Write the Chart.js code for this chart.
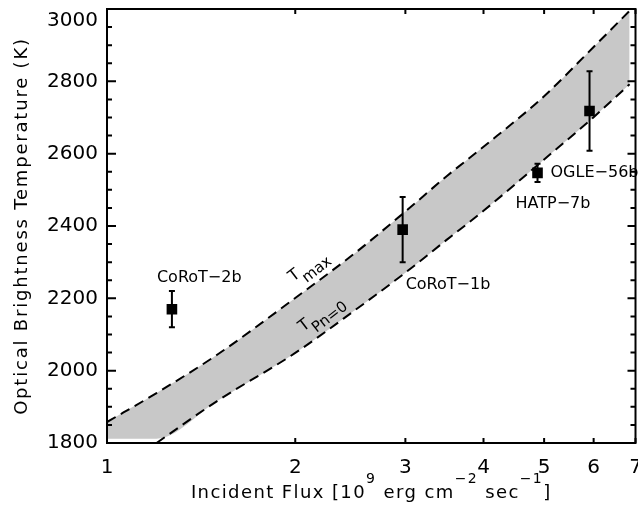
<!DOCTYPE html>
<html>
<head>
<meta charset="utf-8">
<script src="https://cdn.jsdelivr.net/npm/chart.js@4.4.0/dist/chart.umd.min.js"></script>
<style>
  html, body { margin: 0; padding: 0; background: #fff; overflow: hidden; }
  #wrap { width: 638px; height: 507px; overflow: hidden; }
</style>
</head>
<body>
<div id="wrap"><canvas id="chart" width="643" height="507"></canvas></div>
<script>
// measured planets
const planets = ['CoRoT\u22122b', 'CoRoT\u22121b', 'HATP\u22127b', 'OGLE\u221256b'];
const planetFlux = [1.27, 2.97, 4.88, 5.91];
const planetTemp = [2170, 2390, 2547, 2718];
const planetErr = [50, 90, 25, 110];

// model curves
const modelFlux = [1.0, 1.2, 1.5, 2.0, 2.5, 3.0, 3.5, 4.0, 5.0, 6.0, 6.85];
const tMax = [1858, 1938, 2044, 2201, 2327, 2440, 2539, 2619, 2759, 2895, 2995];
const tPn0 = [null, 1800, 1916, 2049, 2169, 2271, 2363, 2442, 2584, 2701, 2792];
const bandFloor = [1812, 1812, 1916, 2049, 2169, 2271, 2363, 2442, 2584, 2701, 2792];

const xTicks = [1, 2, 3, 4, 5, 6, 7];
const yMin = 1800, yMax = 3000, yStep = 200, yMinorStep = 50;

// label placement (pixels from the point)
const labelDx = [-15, 3, -22, -39];
const labelDy = [-27, 59, 35, 66];

Chart.defaults.font.family = 'DejaVu Sans';
Chart.defaults.color = '#000';

const pts = (xs, ys) => xs.map((x, i) => ({ x: x, y: ys[i] }));

const overlay = {
  id: 'overlay',
  afterDatasetsDraw(chart) {
    const { ctx, scales: { x, y } } = chart;
    ctx.save();
    ctx.strokeStyle = '#000';
    ctx.fillStyle = '#000';
    ctx.lineWidth = 2;
    planetFlux.forEach((f, i) => {
      const px = x.getPixelForValue(f);
      const top = y.getPixelForValue(planetTemp[i] + planetErr[i]);
      const bot = y.getPixelForValue(planetTemp[i] - planetErr[i]);
      ctx.beginPath();
      ctx.moveTo(px, top); ctx.lineTo(px, bot);
      ctx.moveTo(px - 3, top); ctx.lineTo(px + 3, top);
      ctx.moveTo(px - 3, bot); ctx.lineTo(px + 3, bot);
      ctx.stroke();
      ctx.font = '16px "DejaVu Sans"';
      ctx.textAlign = 'left';
      ctx.textBaseline = 'alphabetic';
      ctx.fillText(planets[i], px + labelDx[i], y.getPixelForValue(planetTemp[i]) + labelDy[i]);
    });

    // curve labels, rotated along the band
    const curveLabel = (f, t, sub) => {
      ctx.save();
      ctx.translate(x.getPixelForValue(f), y.getPixelForValue(t));
      ctx.rotate(-0.66);
      ctx.font = '16px "DejaVu Sans"';
      ctx.fillText('T', 0, 0);
      ctx.font = '15px "DejaVu Sans"';
      ctx.fillText(sub, 10, 9);
      ctx.restore();
    };
    curveLabel(1.985, 2245, 'max');
    curveLabel(2.059, 2107, 'Pn=0');
    ctx.restore();
  },
  afterDraw(chart) {
    const { ctx, chartArea: { left, right, top, bottom }, scales: { x, y } } = chart;
    ctx.save();
    ctx.strokeStyle = '#000';
    ctx.lineWidth = 2;
    ctx.strokeRect(left, top, right - left, bottom - top);
    ctx.beginPath();
    for (let v = yMin; v <= yMax; v += yMinorStep) {
      const py = y.getPixelForValue(v);
      const major = v % yStep === 0;
      ctx.moveTo(left, py); ctx.lineTo(left + (major ? 9 : 5), py);
      ctx.moveTo(right, py); ctx.lineTo(right - (major ? 8 : 5), py);
    }
    xTicks.forEach(v => {
      const px = x.getPixelForValue(v);
      ctx.moveTo(px, bottom); ctx.lineTo(px, bottom - 5);
      ctx.moveTo(px, top); ctx.lineTo(px, top + 5);
    });
    ctx.stroke();

    ctx.fillStyle = '#000';
    ctx.textBaseline = 'alphabetic';

    // y title
    ctx.save();
    ctx.translate(27, (top + bottom) / 2);
    ctx.rotate(-Math.PI / 2);
    ctx.font = '18px "DejaVu Sans"';
    ctx.letterSpacing = '1.8px';
    ctx.textAlign = 'center';
    ctx.fillText('Optical Brightness Temperature (K)', 0, 0);
    ctx.restore();

    // x title with superscripts
    ctx.letterSpacing = '1.4px';
    const parts = [
      ['Incident Flux [10', 18, 0], ['9', 14, -15], [' erg cm', 18, 0],
      ['\u22122', 14, -15], [' sec', 18, 0], ['\u22121', 14, -15], [']', 18, 0]
    ];
    let w = 0;
    parts.forEach(p => { ctx.font = p[1] + 'px "DejaVu Sans"'; w += ctx.measureText(p[0]).width; });
    let cx = (left + right) / 2 - w / 2;
    const base = bottom + 55;
    ctx.textAlign = 'left';
    parts.forEach(p => {
      ctx.font = p[1] + 'px "DejaVu Sans"';
      ctx.fillText(p[0], cx, base + p[2]);
      cx += ctx.measureText(p[0]).width;
    });
    ctx.restore();
  }
};

new Chart(document.getElementById('chart'), {
  type: 'line',
  data: {
    datasets: [
      {
        type: 'scatter', label: 'planets', data: pts(planetFlux, planetTemp),
        pointStyle: 'rect', pointRadius: 7.5, backgroundColor: '#000', borderWidth: 0, order: 0
      },
      {
        label: 'Tmax', data: pts(modelFlux, tMax), borderColor: '#000', borderWidth: 2,
        borderDash: [10, 6], pointRadius: 0, fill: false, cubicInterpolationMode: 'monotone', order: 1
      },
      {
        label: 'TPn=0', data: pts(modelFlux, tPn0), borderColor: '#000', borderWidth: 2,
        borderDash: [10, 6], pointRadius: 0, fill: false, cubicInterpolationMode: 'monotone', order: 2
      },
      {
        label: 'band', data: pts(modelFlux, tMax), borderColor: 'rgba(0,0,0,0)', borderWidth: 1,
        pointRadius: 0, fill: '+1', backgroundColor: '#c8c8c8', cubicInterpolationMode: 'monotone', order: 3
      },
      {
        label: 'floor', data: pts(modelFlux, bandFloor), borderColor: 'rgba(0,0,0,0)', borderWidth: 1,
        pointRadius: 0, fill: false, cubicInterpolationMode: 'monotone', order: 4
      }
    ]
  },
  options: {
    responsive: false,
    animation: false,
    devicePixelRatio: 1,
    layout: { padding: { top: 9, right: 0, left: 0, bottom: 0 } },
    plugins: { legend: { display: false }, tooltip: { enabled: false } },
    scales: {
      x: {
        type: 'logarithmic', min: 1, max: 7,
        grid: { display: false, drawTicks: false },
        border: { display: false },
        afterBuildTicks: (scale) => { scale.ticks = xTicks.map(v => ({ value: v })); },
        afterFit: (scale) => { scale.height = 64; scale.paddingLeft = 0; scale.paddingRight = 0; },
        ticks: { callback: (v) => String(v), autoSkip: false, maxRotation: 0, font: { size: 20 }, padding: 13 }
      },
      y: {
        min: yMin, max: yMax,
        grid: { display: false, drawTicks: false },
        border: { display: false },
        afterFit: (scale) => { scale.width = 107; scale.paddingTop = 0; scale.paddingBottom = 0; },
        ticks: {
          stepSize: yStep, font: { size: 20 }, padding: 9,
          callback: (v) => (v === yMax ? ['', String(v)] : String(v))
        }
      }
    }
  },
  plugins: [overlay]
});
</script>
</body>
</html>
